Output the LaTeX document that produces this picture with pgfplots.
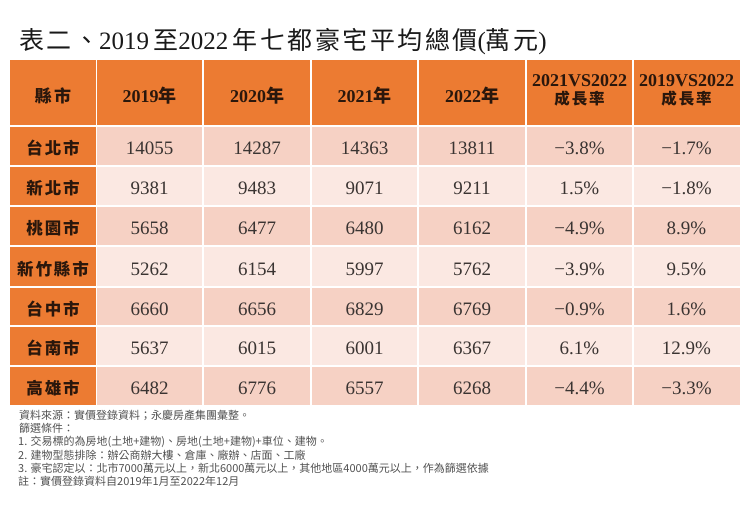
\documentclass[border=0pt]{standalone}
\usepackage{pgfplots}
\pgfplotsset{compat=1.18}
\usepackage{pgfplotstable}
\usepackage{fontspec}
\setmainfont{Liberation Serif}
\newfontfamily\cjk{Noto Sans CJK TC}
\newfontfamily\cjkcity[LetterSpace=12]{Noto Sans CJK TC}
\newfontfamily\cjktitle[LetterSpace=10]{Noto Sans CJK TC}
\definecolor{hdr}{HTML}{EC7B32}
\definecolor{rowA}{HTML}{F6D1C4}
\definecolor{rowB}{HTML}{FBE8E2}
\definecolor{hdrtxt}{HTML}{2A170C}
\definecolor{numtxt}{HTML}{3A3432}
\definecolor{foot}{HTML}{505050}

\newcommand\yr[1]{{\bfseries #1}{\cjk\bfseries 年}}
\newcommand\vs[1]{{\bfseries #1VS2022}}

% rows: y = text centre (px from top)
\pgfplotstableread{
y city v19 v20 v21 v22 gA gB
148.5 台北市 14055 14287 14363 13811 −3.8 −1.7
188.5 新北市 9381 9483 9071 9211 1.5 −1.8
228.5 桃園市 5658 6477 6480 6162 −4.9 8.9
269 新竹縣市 5262 6154 5997 5762 −3.9 9.5
309 台中市 6660 6656 6829 6769 −0.9 1.6
348.5 台南市 5637 6015 6001 6367 6.1 12.9
388 高雄市 6482 6776 6557 6268 −4.4 −3.3
}\data

\begin{document}
\begin{tikzpicture}
\path[use as bounding box] (0,0) rectangle (751pt,513pt);
\begin{axis}[
  at={(0,0)}, anchor=south west,
  scale only axis, width=751pt, height=513pt,
  xmin=0, xmax=751, ymin=0, ymax=513, y dir=reverse,
  hide axis, clip=false,
  txt/.style={only marks, mark=*, mark size=0pt,
    mark options={draw=none, fill=none},
    point meta=explicit symbolic,
    nodes near coords align={center},
    every node near coord/.append style={inner sep=0pt, anchor=center}},
  numcol/.style={txt,
    nodes near coords={\pgfplotspointmeta},
    every node near coord/.append style={font=\fontsize{19}{19}\selectfont, text=numtxt}},
  pctcol/.style={txt,
    nodes near coords={\pgfplotspointmeta\%},
    every node near coord/.append style={font=\fontsize{19}{19}\selectfont, text=numtxt}},
]
% ---- cell backgrounds
\addplot[fill=hdr, draw=none] coordinates {(10,60) (740,60) (740,126) (10,126)} -- cycle;
\addplot[fill=rowA, draw=none] coordinates {(10,126) (740,126) (740,166) (10,166)} -- cycle;
\addplot[fill=rowB, draw=none] coordinates {(10,166) (740,166) (740,206) (10,206)} -- cycle;
\addplot[fill=rowA, draw=none] coordinates {(10,206) (740,206) (740,246) (10,246)} -- cycle;
\addplot[fill=rowB, draw=none] coordinates {(10,246) (740,246) (740,287) (10,287)} -- cycle;
\addplot[fill=rowA, draw=none] coordinates {(10,287) (740,287) (740,326) (10,326)} -- cycle;
\addplot[fill=rowB, draw=none] coordinates {(10,326) (740,326) (740,366) (10,366)} -- cycle;
\addplot[fill=rowA, draw=none] coordinates {(10,366) (740,366) (740,405) (10,405)} -- cycle;
\addplot[fill=hdr, draw=none] coordinates {(10,126) (96.5,126) (96.5,405) (10,405)} -- cycle;
% ---- white grid lines
\addplot[white, line width=2.2pt, unbounded coords=jump] coordinates {
 (10,126.3) (740,126.3) (740,nan)
};
\addplot[white, line width=1.4pt, unbounded coords=jump] coordinates {
 (10,166) (740,166) (740,nan)
 (10,206) (740,206) (740,nan)
 (10,246) (740,246) (740,nan)
 (10,287) (740,287) (740,nan)
 (10,326) (740,326) (740,nan)
 (10,366) (740,366) (740,nan)
};
\addplot[white, line width=1.8pt, unbounded coords=jump] coordinates {
 (96.5,60) (96.5,405) (96.5,nan)
 (203,60) (203,405) (203,nan)
 (311,60) (311,405) (311,nan)
 (418,60) (418,405) (418,nan)
 (526,60) (526,405) (526,nan)
 (633,60) (633,405) (633,nan)
};
% ---- header labels
\addplot[txt, nodes near coords={\pgfplotspointmeta},
  every node near coord/.append style={font=\fontsize{18}{18}\selectfont, text=hdrtxt}]
 coordinates {
 (53,95.5) [{\cjkcity\bfseries\fontsize{17}{17}\selectfont 縣市}]
 (149.5,95.5) [\yr{2019}]
 (257,95.5) [\yr{2020}]
 (364.5,95.5) [\yr{2021}]
 (472,95.5) [\yr{2022}]
 (579.5,81) [\vs{2021}]
 (579.5,98.5) [{\cjkcity\bfseries\fontsize{15.5}{15.5}\selectfont 成長率}]
 (686.5,81) [\vs{2019}]
 (686.5,98.5) [{\cjkcity\bfseries\fontsize{15.5}{15.5}\selectfont 成長率}]
};
% ---- city names
\addplot[txt, nodes near coords={\cjkcity\bfseries\pgfplotspointmeta},
  every node near coord/.append style={font=\fontsize{16.5}{16.5}\selectfont, text=hdrtxt}]
  table[x expr=53, y=y, meta=city] {\data};
% ---- values
\addplot[numcol] table[x expr=149.5, y=y, meta=v19] {\data};
\addplot[numcol] table[x expr=257, y=y, meta=v20] {\data};
\addplot[numcol] table[x expr=364.5, y=y, meta=v21] {\data};
\addplot[numcol] table[x expr=472, y=y, meta=v22] {\data};
\addplot[pctcol] table[x expr=579.5, y=y, meta=gA] {\data};
\addplot[pctcol] table[x expr=686.5, y=y, meta=gB] {\data};
% ---- title and notes
\node[anchor=base west, inner sep=0pt, text=black!90, font=\fontsize{25}{25}\selectfont]
  at (axis cs:19,50) {{\cjktitle 表二、}2019\,{\cjktitle 至}2022\,{\cjktitle 年七都豪宅平均總價}({\cjktitle 萬元})};
\begin{scope}[every node/.style={anchor=west, inner sep=0pt, text=foot, font=\cjk\fontsize{11}{11}\selectfont}]
\node at (axis cs:19,415) {資料來源：實價登錄資料；永慶房產集團彙整。};
\node at (axis cs:19,428) {篩選條件：};
\node at (axis cs:18,441.5) {1. 交易標的為房地(土地+建物)、房地(土地+建物)+車位、建物。};
\node at (axis cs:18,455) {2. 建物型態排除：辦公商辦大樓、倉庫、廠辦、店面、工廠};
\node at (axis cs:18,468) {3. 豪宅認定以：北市7000萬元以上，新北6000萬元以上，其他地區4000萬元以上，作為篩選依據};
\node at (axis cs:18,481) {註：實價登錄資料自2019年1月至2022年12月};
\end{scope}
\end{axis}
\end{tikzpicture}
\end{document}
